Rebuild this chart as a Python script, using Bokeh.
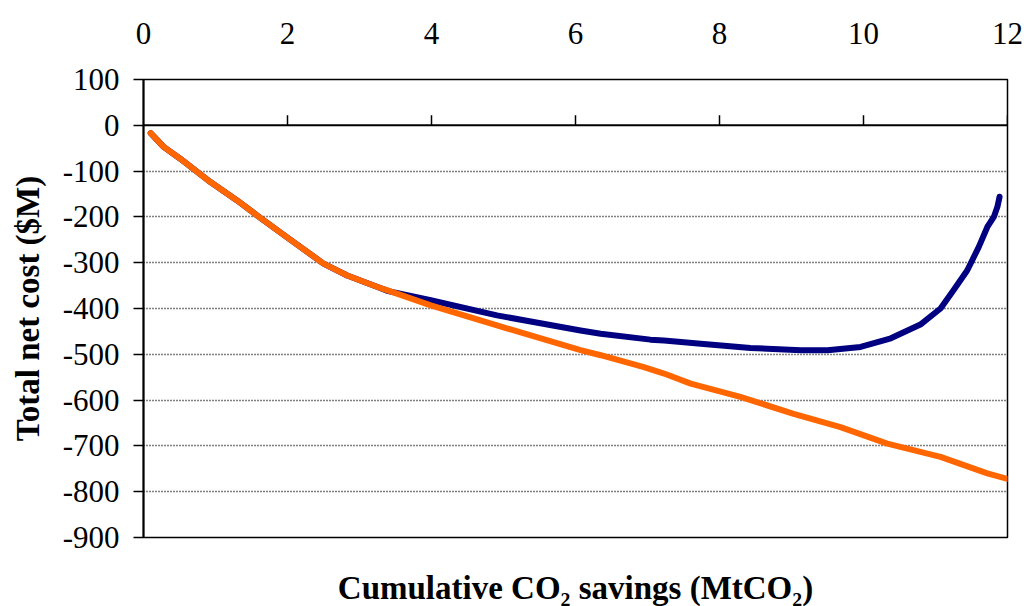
from bokeh.plotting import figure
from bokeh.models import LinearAxis, FixedTicker, Span, Range1d
from bokeh.embed import file_html
from bokeh.resources import INLINE

# ---- data ----
x_ticks = [0, 2, 4, 6, 8, 10, 12]
y_ticks = [-900, -800, -700, -600, -500, -400, -300, -200, -100, 0, 100]
y_tick_labels = ["-900", "-800", "-700", "-600", "-500", "-400", "-300",
                 "-200", "-100", "0", "100"]
grid_ticks = [-800, -700, -600, -500, -400, -300, -200, -100]

orange_x = [0.10, 0.28, 0.51, 0.93, 1.30, 1.58, 1.99, 2.50, 2.83, 3.25, 3.38,
            3.99, 4.91, 6.07, 6.35, 6.95, 7.23, 7.60, 8.29, 9.03, 9.68, 10.33,
            11.07, 11.72, 12.0]
orange_y = [-17, -47, -73, -124, -164, -197, -244, -302, -328, -353, -360,
            -393, -437, -491, -502, -528, -542, -564, -593, -630, -659, -695,
            -724, -760, -772]

blue_x = [0.10, 0.28, 0.51, 0.93, 1.30, 1.58, 1.99, 2.50, 2.83, 3.25, 3.40,
          3.99, 4.91, 6.07, 6.35, 7.04, 7.23, 7.74, 8.43, 9.13, 9.50, 9.96,
          10.38, 10.79, 11.07, 11.25, 11.44, 11.60, 11.72, 11.81, 11.86, 11.89]
blue_y = [-17, -47, -73, -124, -164, -197, -244, -302, -328, -353, -362,
          -382, -415, -448, -455, -468, -470, -477, -486, -491, -491, -484,
          -465, -435, -400, -360, -317, -266, -222, -200, -178, -156]

x_title = "Cumulative CO\u2082 savings (MtCO\u2082)"
y_title = "Total net cost ($M)"

SERIF = "Liberation Serif"
FRAME_H = 458
Y_SPAN = y_ticks[-1] - y_ticks[0]

p = figure(frame_width=864, frame_height=FRAME_H,
           x_range=Range1d(0, 12), y_range=Range1d(-900, 100),
           x_axis_location=None, y_axis_location="left",
           output_backend="svg", toolbar_location=None,
           min_border_left=143, min_border_right=19,
           min_border_top=79, min_border_bottom=69,
           background_fill_color="white", border_fill_color="white")

p.outline_line_color = "black"
p.outline_line_width = 1.5
p.xgrid.visible = False

# y axis
ya = p.yaxis[0]
ya.ticker = FixedTicker(ticks=y_ticks)
ya.major_label_overrides = dict(zip(y_ticks, y_tick_labels))
ya.axis_line_width = 2
ya.axis_line_color = "black"
ya.major_tick_out = 10
ya.major_tick_in = 0
ya.major_tick_line_width = 1.5
ya.minor_tick_line_color = None
ya.major_label_text_font = SERIF
ya.major_label_text_font_size = "31px"
ya.major_label_text_color = "black"
ya.major_label_standoff = 14
ya.axis_label = y_title
ya.axis_label_text_font = SERIF
ya.axis_label_text_font_style = "bold"
ya.axis_label_text_font_size = "33px"
ya.axis_label_text_color = "black"
ya.axis_label_standoff = 14

p.ygrid.ticker = FixedTicker(ticks=grid_ticks)
p.ygrid.grid_line_color = "black"
p.ygrid.grid_line_dash = "1 2"
p.ygrid.grid_line_width = 1.3

# top axis with labels only
top = LinearAxis(ticker=FixedTicker(ticks=x_ticks),
                 axis_line_color=None, major_tick_line_color=None,
                 minor_tick_line_color=None,
                 major_label_text_font=SERIF,
                 major_label_text_font_size="31px",
                 major_label_text_color="black",
                 major_label_standoff=30)
p.add_layout(top, "above")

# bottom axis carrying only the title
bottom = LinearAxis(ticker=FixedTicker(ticks=[]),
                    axis_line_color=None, major_tick_line_color=None,
                    minor_tick_line_color=None,
                    major_label_text_font_size="0px",
                    axis_label=x_title,
                    axis_label_text_font=SERIF,
                    axis_label_text_font_style="bold",
                    axis_label_text_font_size="33px",
                    axis_label_text_color="black",
                    axis_label_standoff=32)
p.add_layout(bottom, "below")

# zero line with upward tick marks
p.add_layout(Span(location=0, dimension="width", line_color="black", line_width=2))
tick_len = 10 * Y_SPAN / FRAME_H
zx = x_ticks[1:]
p.segment(x0=zx, y0=[0] * len(zx), x1=zx, y1=[tick_len] * len(zx),
          line_color="black", line_width=1.5)

# series
p.line(blue_x, blue_y, line_color="#000080", line_width=6,
       line_cap="round", line_join="round")
p.line(orange_x, orange_y, line_color="#FF6600", line_width=6,
       line_cap="round", line_join="round")

open("out.html", "w").write(file_html(p, INLINE))
